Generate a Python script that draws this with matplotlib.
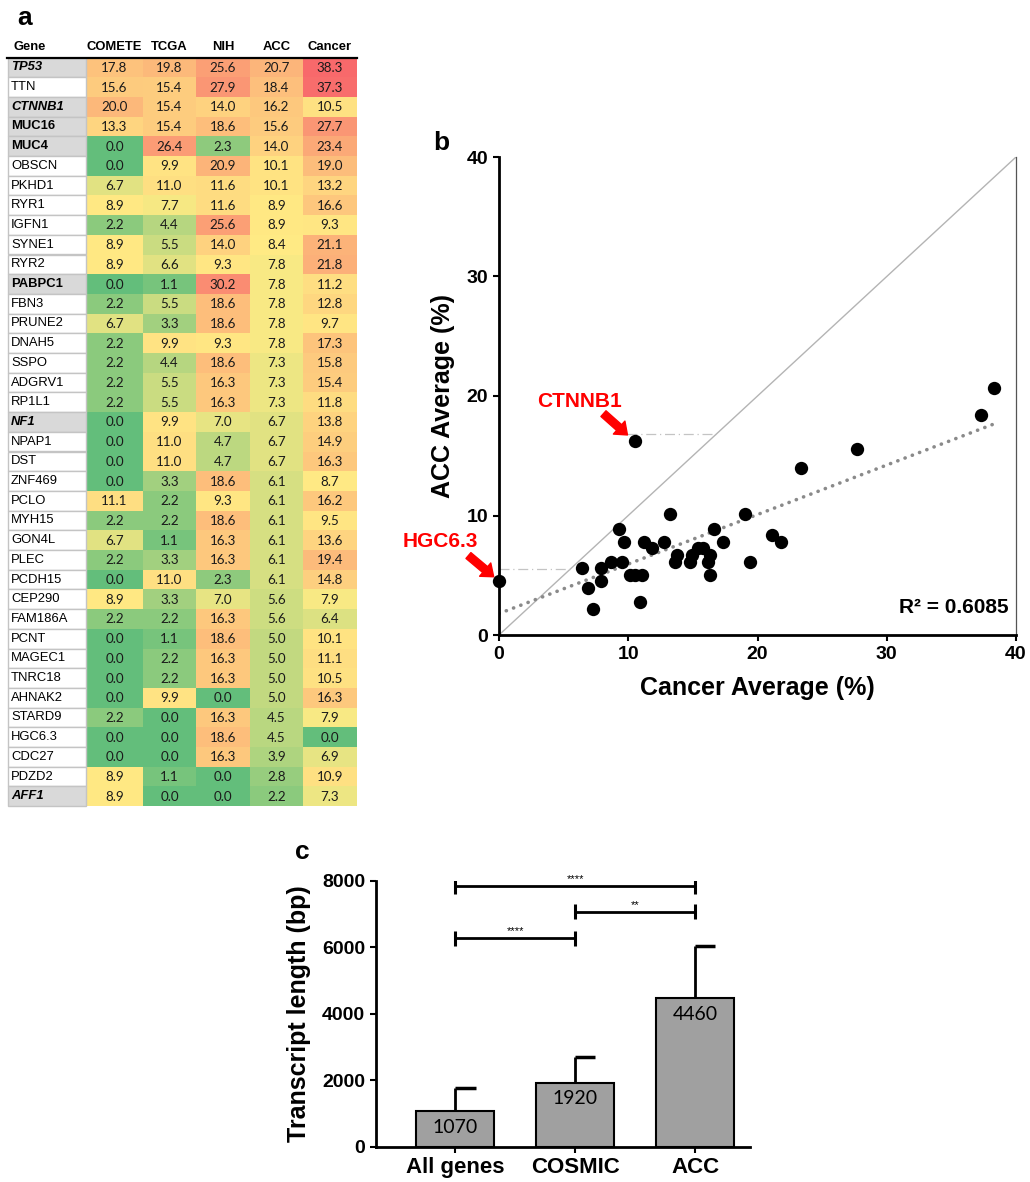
import numpy as np
import matplotlib
matplotlib.use("Agg")
import matplotlib.pyplot as plt
from matplotlib.colors import LinearSegmentedColormap, Normalize
from matplotlib.patches import Rectangle

plt.rcParams["font.family"] = ["Liberation Sans", "DejaVu Sans"]

# ---- panel a: mutation frequency table (%) ----
genes = ["TP53", "TTN", "CTNNB1", "MUC16", "MUC4", "OBSCN", "PKHD1", "RYR1",
         "IGFN1", "SYNE1", "RYR2", "PABPC1", "FBN3", "PRUNE2", "DNAH5", "SSPO",
         "ADGRV1", "RP1L1", "NF1", "NPAP1", "DST", "ZNF469", "PCLO", "MYH15",
         "GON4L", "PLEC", "PCDH15", "CEP290", "FAM186A", "PCNT", "MAGEC1",
         "TNRC18", "AHNAK2", "STARD9", "HGC6.3", "CDC27", "PDZD2", "AFF1"]
comete = [17.8, 15.6, 20.0, 13.3, 0.0, 0.0, 6.7, 8.9, 2.2, 8.9, 8.9, 0.0, 2.2,
          6.7, 2.2, 2.2, 2.2, 2.2, 0.0, 0.0, 0.0, 0.0, 11.1, 2.2, 6.7, 2.2, 0.0,
          8.9, 2.2, 0.0, 0.0, 0.0, 0.0, 2.2, 0.0, 0.0, 8.9, 8.9]
tcga = [19.8, 15.4, 15.4, 15.4, 26.4, 9.9, 11.0, 7.7, 4.4, 5.5, 6.6, 1.1, 5.5,
        3.3, 9.9, 4.4, 5.5, 5.5, 9.9, 11.0, 11.0, 3.3, 2.2, 2.2, 1.1, 3.3, 11.0,
        3.3, 2.2, 1.1, 2.2, 2.2, 9.9, 0.0, 0.0, 0.0, 1.1, 0.0]
nih = [25.6, 27.9, 14.0, 18.6, 2.3, 20.9, 11.6, 11.6, 25.6, 14.0, 9.3, 30.2,
       18.6, 18.6, 9.3, 18.6, 16.3, 16.3, 7.0, 4.7, 4.7, 18.6, 9.3, 18.6, 16.3,
       16.3, 2.3, 7.0, 16.3, 18.6, 16.3, 16.3, 0.0, 16.3, 18.6, 16.3, 0.0, 0.0]
acc = [20.7, 18.4, 16.2, 15.6, 14.0, 10.1, 10.1, 8.9, 8.9, 8.4, 7.8, 7.8, 7.8,
       7.8, 7.8, 7.3, 7.3, 7.3, 6.7, 6.7, 6.7, 6.1, 6.1, 6.1, 6.1, 6.1, 6.1,
       5.6, 5.6, 5.0, 5.0, 5.0, 5.0, 4.5, 4.5, 3.9, 2.8, 2.2]
cancer = [38.3, 37.3, 10.5, 27.7, 23.4, 19.0, 13.2, 16.6, 9.3, 21.1, 21.8, 11.2,
          12.8, 9.7, 17.3, 15.8, 15.4, 11.8, 13.8, 14.9, 16.3, 8.7, 16.2, 9.5,
          13.6, 19.4, 14.8, 7.9, 6.4, 10.1, 11.1, 10.5, 16.3, 7.9, 0.0, 6.9,
          10.9, 7.3]
headers = ["Gene", "COMETE", "TCGA", "NIH", "ACC", "Cancer"]
bold_genes = ["TP53", "CTNNB1", "MUC16", "MUC4", "PABPC1", "NF1", "AFF1"]
italic_genes = ["TP53", "CTNNB1", "NF1", "AFF1"]

# ---- panel b ----
r2_text = "R\u00b2 = 0.6085"
labelled = ["CTNNB1", "HGC6.3"]

# ---- panel c ----
groups = ["All genes", "COSMIC", "ACC"]
length_mean = [1070, 1920, 4460]
length_err = [690, 780, 1580]
sig_pairs = [(0, 2, "****"), (1, 2, "**"), (0, 1, "****")]
sig_heights = [7830, 7065, 6270]

W, H = 1030, 1182
fig = plt.figure(figsize=(W / 100, H / 100), dpi=100)

# ---------------- panel a ----------------
ax_t = fig.add_axes([0, 0, 1, 1], zorder=0)
ax_t.set_xlim(0, W)
ax_t.set_ylim(H, 0)
ax_t.axis("off")

col_edges = np.array([8, 86, 143, 196, 250, 303, 357])
row_top, row_h = 57.5, 19.7
n_rows = len(genes)
row_edges = row_top + np.arange(n_rows + 1) * row_h

vals = np.column_stack([comete, tcga, nih, acc, cancer])
vmid = np.percentile(vals, 50)
vmax = vals.max()
cmap = LinearSegmentedColormap.from_list(
    "excel3", [(0, "#63BE7B"), (vmid / vmax, "#FFEB84"), (1, "#F8696B")])
ax_t.pcolormesh(col_edges[1:], row_edges, vals, cmap=cmap,
                norm=Normalize(0, vmax), shading="flat")

for i, g in enumerate(genes):
    y0 = row_edges[i]
    hl = g in bold_genes
    ax_t.add_patch(Rectangle((col_edges[0], y0), col_edges[1] - col_edges[0], row_h,
                             facecolor="#D9D9D9" if hl else "white",
                             edgecolor="#C4C4C4", lw=1.0))
    ax_t.text(col_edges[0] + 3, y0 + row_h / 2, g, ha="left", va="center",
              fontsize=9.4, weight="bold" if hl else "normal",
              style="italic" if g in italic_genes else "normal")
    for j in range(vals.shape[1]):
        xc = (col_edges[j + 1] + col_edges[j + 2]) / 2
        ax_t.text(xc, y0 + row_h / 2 + 0.5, f"{vals[i, j]:.1f}", ha="center",
                  va="center", fontsize=9.6, family="Lato", color="#1a1a1a")

for j, h in enumerate(headers):
    if j == 0:
        ax_t.text(col_edges[0] + 5, 47, h, ha="left", va="center",
                  fontsize=9.4, weight="bold")
    else:
        ax_t.text((col_edges[j] + col_edges[j + 1]) / 2, 47, h, ha="center",
                  va="center", fontsize=9.4, weight="bold")
ax_t.plot([col_edges[0] - 1, col_edges[-1]], [row_top, row_top], color="black", lw=1.6)

fig.text(17 / W, 1 - 6 / H, "a", fontsize=19, weight="bold", va="top", ha="left")
fig.text(433 / W, 1 - 131 / H, "b", fontsize=19, weight="bold", va="top", ha="left")
fig.text(295 / W, 1 - 840 / H, "c", fontsize=19, weight="bold", va="top", ha="left")

# ---------------- panel b ----------------
ax_b = fig.add_axes([499 / W, 1 - 635 / H, 517 / W, 478 / H], zorder=2)
ax_b.patch.set_alpha(0)
ax_b.plot([0, 40], [0, 40], color="#b4b4b4", lw=1.0, zorder=1)

slope, intercept = np.polyfit(cancer, acc, 1)
xf = np.array([0, max(cancer)])
ax_b.plot(xf, intercept + slope * xf, color="#8a8a8a", lw=2.6,
          linestyle=(0, (0.05, 2.1)), dash_capstyle="round", zorder=2)

ax_b.scatter(cancer, acc, s=92, color="black", zorder=4, clip_on=False,
             linewidths=0)

arrow_kw = dict(arrowstyle="simple,head_length=0.8,head_width=1.25,tail_width=0.55",
                color="red", mutation_scale=10, shrinkA=0)
# (guide start x offset, guide y offset, arrow tail pts, shrink pts, text pts)
label_layout = {
    "CTNNB1": (-0.6, 0.6, (-22.5, 20.0), 7, (-39.5, 28.4)),
    "HGC6.3": (None, 1.0, (-22.0, 18.5), 5, (-42.0, 28.4)),
}
for g in labelled:
    k = genes.index(g)
    px, py = cancer[k], acc[k]
    dx0, dy, tail, shr, toff = label_layout[g]
    gx0 = 0 if dx0 is None else px + dx0
    ax_b.plot([gx0, py + dy], [py + dy, py + dy], color="#c4c4c4", lw=0.9,
              linestyle=(0, (8, 3, 1, 3)), zorder=1)
    ax_b.annotate("", xy=(px, py), xytext=tail, textcoords="offset points",
                  arrowprops=dict(arrow_kw, shrinkB=shr), annotation_clip=False)
    ax_b.annotate(g, xy=(px, py), xytext=toff, textcoords="offset points",
                  ha="center", va="center", color="red", fontsize=15,
                  weight="bold", annotation_clip=False)

ax_b.text(39.4, 2.3, r2_text, ha="right", va="center", fontsize=15, weight="bold")

ax_b.set_xlim(0, 40)
ax_b.set_ylim(0, 40)
ax_b.set_xticks([0, 10, 20, 30, 40])
ax_b.set_yticks([0, 10, 20, 30, 40])
for s in ["left", "bottom"]:
    ax_b.spines[s].set_linewidth(2)
ax_b.spines["top"].set_visible(False)
ax_b.spines["right"].set_linewidth(0.9)
ax_b.spines["right"].set_color("#555555")
ax_b.tick_params(direction="out", length=4.5, width=1.5, labelsize=14, pad=3.5)
for lab in ax_b.get_xticklabels() + ax_b.get_yticklabels():
    lab.set_fontweight("bold")
ax_b.set_xlabel("Cancer Average (%)", fontsize=18, weight="bold", labelpad=9)
ax_b.set_ylabel("ACC Average (%)", fontsize=18, weight="bold", labelpad=8)

# ---------------- panel c ----------------
ax_c = fig.add_axes([375.5 / W, 1 - 1146.7 / H, 374.5 / W, 266 / H], zorder=2)
ax_c.patch.set_alpha(0)
xpos = np.arange(len(groups))
tops = np.array(length_mean) + np.array(length_err)
ax_c.vlines(xpos, length_mean, tops, color="black", lw=2, zorder=1)
ax_c.hlines(tops, xpos, xpos + 0.17, color="black", lw=2.5, zorder=1)
ax_c.bar(xpos, length_mean, width=0.65, color="#a0a0a0", edgecolor="black",
         lw=1.5, zorder=2)
for xi, m in zip(xpos, length_mean):
    ax_c.annotate(f"{m}", (xi, m), xytext=(0, -11.5), textcoords="offset points",
                  ha="center", va="center", fontsize=14, family="Lato")

for (a, b, stars), h in zip(sig_pairs, sig_heights):
    ax_c.hlines(h, a, b, color="black", lw=2)
    ax_c.vlines([a, b], h - 220, h + 220, color="black", lw=2.2)
    ax_c.annotate(stars, ((a + b) / 2, h), xytext=(0, 5), textcoords="offset points",
                  ha="center", va="center", fontsize=8, annotation_clip=False)

ax_c.set_xlim(-0.664, 2.458)
ax_c.set_ylim(0, 8000)
ax_c.set_yticks([0, 2000, 4000, 6000, 8000])
ax_c.set_xticks(xpos)
ax_c.set_xticklabels(groups, fontsize=16, weight="bold")
for lab in ax_c.get_yticklabels():
    lab.set_fontweight("bold")
ax_c.spines["top"].set_visible(False)
ax_c.spines["right"].set_visible(False)
for s in ["left", "bottom"]:
    ax_c.spines[s].set_linewidth(2)
ax_c.tick_params(axis="y", direction="out", length=4, width=1.5, labelsize=14)
ax_c.tick_params(axis="x", direction="out", length=4.5, width=1.5, pad=3)
ax_c.set_ylabel("Transcript length (bp)", fontsize=18, weight="bold", labelpad=8)

fig.savefig("out.png", dpi=100)
